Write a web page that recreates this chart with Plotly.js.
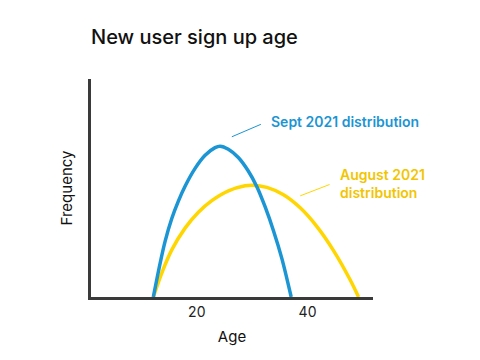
<!DOCTYPE html>
<html>
<head>
<meta charset="utf-8">
<script src="https://cdn.plot.ly/plotly-3.0.1.min.js"></script>
<style>html,body{margin:0;padding:0;background:#fff;}#chart{width:480px;height:360px;}</style>
</head>
<body>
<div id="chart"></div>
<script>
// Sept 2021 distribution (age, relative frequency)
var septAge = [12.15, 13.36, 14.27, 15.48, 16.67, 17.88, 19.69, 21.5, 23.3, 24.2, 25.7, 27.5, 29.3, 30.85, 32.35, 33.85, 35.37, 37.05];
var septFreq = [0, 15.3, 25.5, 36.0, 44.0, 50.8, 59.0, 65.0, 68.5, 69.2, 67.8, 64.0, 57.8, 50.6, 41.3, 30.4, 17.6, 0];
// August 2021 distribution
var augAge = [12.15, 13.67, 15.48, 17.88, 20.29, 22.71, 25.71, 28.73, 30.0, 32.66, 35.66, 38.68, 41.7, 44.7, 47.72, 49.22];
var augFreq = [0, 11.0, 21.6, 31.6, 38.9, 44.2, 48.7, 51.0, 51.3, 50.3, 46.9, 40.9, 32.3, 21.3, 7.8, 0];
var tickVals = [20, 40];
var tickText = ['20', '40'];
var titleText = 'New user sign up age';
var septLabel = 'Sept 2021 distribution';
var augLabel = 'August 2021<br>distribution';

var blue = '#1B95D3';
var yellow = '#FFD600';
var fontFam = 'Inter, "Open Sans", sans-serif';

var traces = [
  {x: augAge, y: augFreq, type: 'scatter', mode: 'lines', line: {color: yellow, width: 3.5, shape: 'spline', smoothing: 0.9}, hoverinfo: 'skip'},
  {x: septAge, y: septFreq, type: 'scatter', mode: 'lines', line: {color: blue, width: 3.5, shape: 'spline', smoothing: 0.9}, hoverinfo: 'skip'}
];

var layout = {
  width: 480, height: 360,
  margin: {l: 91, r: 107.3, t: 79, b: 63.3, pad: 0},
  paper_bgcolor: '#fff', plot_bgcolor: '#fff',
  showlegend: false,
  font: {family: fontFam, color: '#111'},
  title: {text: titleText, x: 0, xanchor: 'left', xref: 'paper', y: 1 - 37/360, yanchor: 'middle', yref: 'container',
          font: {family: fontFam, size: 20, weight: 500, color: '#111'}},
  xaxis: {range: [0.886, 51.83], showgrid: false, zeroline: false, showline: true, linecolor: '#3a3a3a', linewidth: 3,
          tickvals: tickVals, ticktext: tickText, ticks: '', tickfont: {size: 14, family: fontFam, color: '#222'},
          title: {text: 'Age', font: {size: 15, family: fontFam, color: '#111'}, standoff: 13}},
  yaxis: {range: [0, 100], showgrid: false, zeroline: false, showline: true, linecolor: '#3a3a3a', linewidth: 3,
          showticklabels: false, ticks: '',
          title: {text: 'Frequency', font: {size: 15, family: fontFam, color: '#111'}, standoff: 12}},
  shapes: [
    {type: 'line', xref: 'x', yref: 'y', x0: 26.33, y0: 73.5, x1: 31.57, y1: 79.2, line: {color: blue, width: 1}},
    {type: 'line', xref: 'x', yref: 'y', x0: 38.68, y0: 46.4, x1: 43.98, y1: 51.6, line: {color: yellow, width: 1}}
  ],
  annotations: [
    {text: septLabel, xref: 'x', yref: 'y', x: 33.07, y: 80.4, xanchor: 'left', yanchor: 'middle', showarrow: false,
     font: {family: fontFam, size: 14, weight: 600, color: blue}},
    {text: augLabel, xref: 'x', yref: 'y', x: 45.55, y: 52.0, xanchor: 'left', yanchor: 'middle', align: 'left', showarrow: false,
     font: {family: fontFam, size: 14, weight: 600, color: '#F2C500'}}
  ]
};

Plotly.newPlot('chart', traces, layout, {displayModeBar: false, staticPlot: true});
</script>
</body>
</html>
